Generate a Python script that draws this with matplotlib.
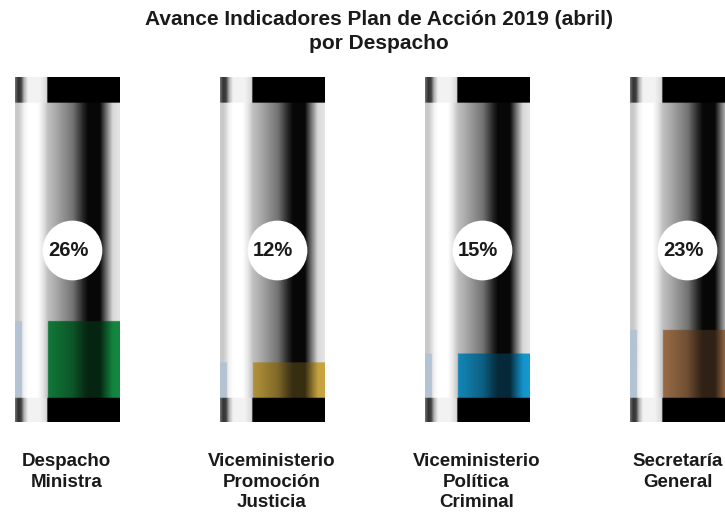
import numpy as np
import matplotlib.pyplot as plt
from matplotlib.colors import to_rgb

plt.rcParams['font.family'] = ['Liberation Sans', 'DejaVu Sans']

despachos = ['Despacho\nMinistra',
             'Viceministerio\nPromoción\nJusticia',
             'Viceministerio\nPolítica\nCriminal',
             'Secretaría\nGeneral']
avance = [26, 12, 15, 23]
colores = ['#14873f', '#c9a441', '#1597cf', '#ad7a4f']

titulo = 'Avance Indicadores Plan de Acción 2019 (abril)\npor Despacho'

PASO = 205.0      # px entre tubos
CENTRO = 66.5     # centro del primer tubo en px
PX_Y = 2.95       # px por punto porcentual
BANDA_SUP = 8.8
BANDA_INF = 8.1

# perfil de brillo horizontal del tubo (px absolutos del primer tubo)
px = np.linspace(15, 120, 420)
cuerpo = np.interp(px, [15, 18, 21, 24, 28, 38, 43, 48, 53, 73, 83, 88, 100, 108, 113, 120],
                   [0.80, 0.78, 0.85, 0.95, 1, 1, 0.9, 0.75, 0.70, 0.45, 0.15, 0.03, 0.03, 0.55, 0.85, 0.9])
banda = np.interp(px, [15, 18, 21, 24, 28, 40, 47, 47.5, 120],
                  [0.45, 0.2, 0.25, 0.7, 0.95, 0.95, 0.85, 0.0, 0.0])
franja = px < 22
principal = px >= 48

ys = np.arange(-BANDA_INF, 100 + BANDA_SUP, 0.1)

fig = plt.figure(figsize=(7.25, 5.13), dpi=100)
ax = fig.add_axes([0, 0, 1, 1])
ax.set_xlim(-CENTRO / PASO, (725 - CENTRO) / PASO)
ax.set_ylim((398 - 513) / PX_Y, 398 / PX_Y)
ax.axis('off')

for i, (nombre, valor, color) in enumerate(zip(despachos, avance, colores)):
    gris = np.repeat(cuerpo[:, None], 3, axis=1)
    img = np.empty((len(ys), len(px), 3))
    img[:] = gris
    # zona llena segun el avance
    lleno = (ys >= 0) & (ys <= valor)
    sombra = np.clip(0.25 + 0.85 * cuerpo, 0, 1)
    fila_llena = gris.copy()
    fila_llena[principal] = np.array(to_rgb(color))[None, :] * sombra[principal, None]
    fila_llena[franja] = to_rgb('#b4c3d3')
    img[lleno] = fila_llena
    # bandas negras arriba y abajo
    img[(ys > 100) | (ys < 0)] = np.repeat(banda[:, None], 3, axis=1)

    x0 = i + (15 - CENTRO) / PASO
    x1 = i + (120 - CENTRO) / PASO
    ax.imshow(img, extent=[x0, x1, ys[0], ys[-1]], origin='lower', aspect='auto',
              interpolation='bilinear', zorder=1)

    # etiqueta circular con el porcentaje
    ax.scatter([i + 6 / PASO], [50], s=1850, color='white', edgecolors='none', zorder=3)
    ax.text(i + 1.5 / PASO, 50, f'{valor}%', ha='center', va='center', fontsize=14.5,
            fontweight='bold', color='#1a1a1a', zorder=4)

    # el ultimo rotulo queda junto al borde derecho
    xt = i - 4 / PASO if i == len(despachos) - 1 else i
    ax.text(xt, (398 - 453) / PX_Y, nombre, ha='center', va='top', fontsize=13.5,
            fontweight='bold', color='#1a1a1a', linespacing=1.28)

fig.text(379 / 725, 1 - 10 / 513, titulo, ha='center', va='top', fontsize=15,
         fontweight='bold', color='#1a1a1a', linespacing=1.33)

fig.savefig('out.png', dpi=100)
